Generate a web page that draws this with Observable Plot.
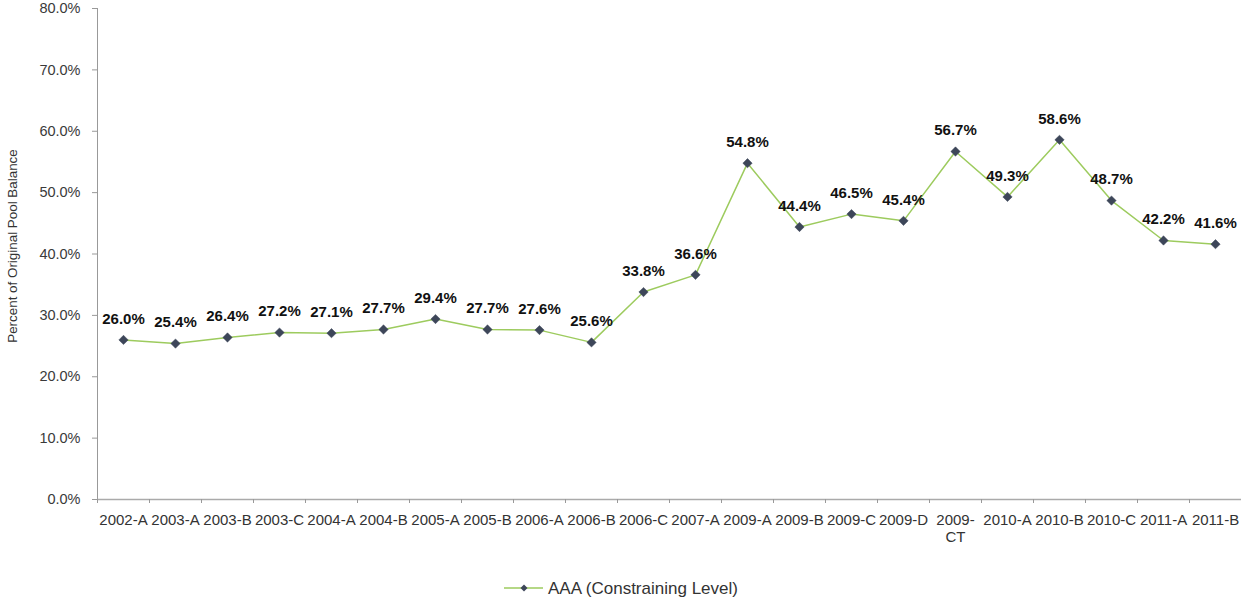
<!DOCTYPE html>
<html>
<head>
<meta charset="utf-8">
<script src="https://cdn.jsdelivr.net/npm/d3@7"></script>
<script src="https://cdn.jsdelivr.net/npm/@observablehq/plot@0.6"></script>
<style>
  body { margin: 0; background: #fff; font-family: "Liberation Sans", Arial, sans-serif; }
  #chart { width: 1241px; height: 550px; }
  .legend { position: relative; height: 50px; width: 1241px; }
  .legend svg { position: absolute; left: 504px; top: 33px; }
  .legend span { position: absolute; left: 548px; top: 29px; font-size: 17px; line-height: 20px; color: #333; white-space: nowrap; }
</style>
</head>
<body>
<div id="chart"></div>
<script>
const categories = ["2002-A","2003-A","2003-B","2003-C","2004-A","2004-B","2005-A","2005-B","2006-A","2006-B","2006-C","2007-A","2009-A","2009-B","2009-C","2009-D","2009-CT","2010-A","2010-B","2010-C","2011-A","2011-B"];
const values = [26.0,25.4,26.4,27.2,27.1,27.7,29.4,27.7,27.6,25.6,33.8,36.6,54.8,44.4,46.5,45.4,56.7,49.3,58.6,48.7,42.2,41.6];
const yTicks = [0,10,20,30,40,50,60,70,80];
const seriesName = "AAA (Constraining Level)";
const yLabel = "Percent of Original Pool Balance";

const lineColor = "#9dcb5e";
const markerColor = "#3d4659";

const data = categories.map((c, i) => ({cat: c, i: i + 0.5, v: values[i]}));
const labelFor = (c) => c === "2009-CT" ? "2009-\nCT" : c;

const plot = Plot.plot({
  width: 1241,
  height: 550,
  marginLeft: 97,
  marginRight: 0,
  marginTop: 8,
  marginBottom: 51,
  style: {fontFamily: "'Liberation Sans', Arial, sans-serif", color: "#333", background: "#fff"},
  x: {domain: [0, categories.length], axis: null},
  y: {domain: [0, 80], axis: null},
  marks: [
    // y axis
    Plot.axisY({ticks: yTicks, tickFormat: d => d.toFixed(1) + "%", tickSize: 5, tickPadding: 12, fontSize: 14.5, stroke: "#999", color: "#3a3a3a", label: null}),
    Plot.ruleX([0], {stroke: "#999", strokeWidth: 1}),
    // x axis baseline + tick marks between categories
    Plot.ruleY([0], {stroke: "#aaa", strokeWidth: 1.5}),
    Plot.axisX({ticks: d3.range(categories.length + 1), tickFormat: () => "", tickSize: 4, stroke: "#999", label: null}),
    Plot.axisX({ticks: data.map(d => d.i), tickFormat: (d) => labelFor(categories[Math.floor(d)]), tickSize: 0, tickPadding: 14, fontSize: 15, color: "#333", label: null, lineHeight: 1.1}),
    // y axis title
    Plot.text([yLabel], {frameAnchor: "left", textAnchor: "middle", rotate: -90, dx: -85, dy: -8, fontSize: 13.4, fill: "#333"}),
    // series
    Plot.line(data, {x: "i", y: "v", stroke: lineColor, strokeWidth: 1.5}),
    Plot.dot(data, {x: "i", y: "v", symbol: "diamond2", r: 4.2, fill: markerColor, stroke: markerColor, strokeWidth: 0.5}),
    Plot.text(data, {x: "i", y: "v", text: d => d.v.toFixed(1) + "%", dy: -21, fontSize: 15, fontWeight: "bold", fill: "#111"})
  ]
});
document.getElementById("chart").appendChild(plot);

const legend = document.createElement("div");
legend.className = "legend";
legend.innerHTML = `<svg width="42" height="10"><line x1="0" y1="5" x2="39" y2="5" stroke="${lineColor}" stroke-width="1.5"/><path d="M20,1.5L23.5,5L20,8.5L16.5,5Z" fill="${markerColor}"/></svg><span></span>`;
legend.querySelector("span").textContent = seriesName;
document.body.appendChild(legend);
</script>
</body>
</html>
